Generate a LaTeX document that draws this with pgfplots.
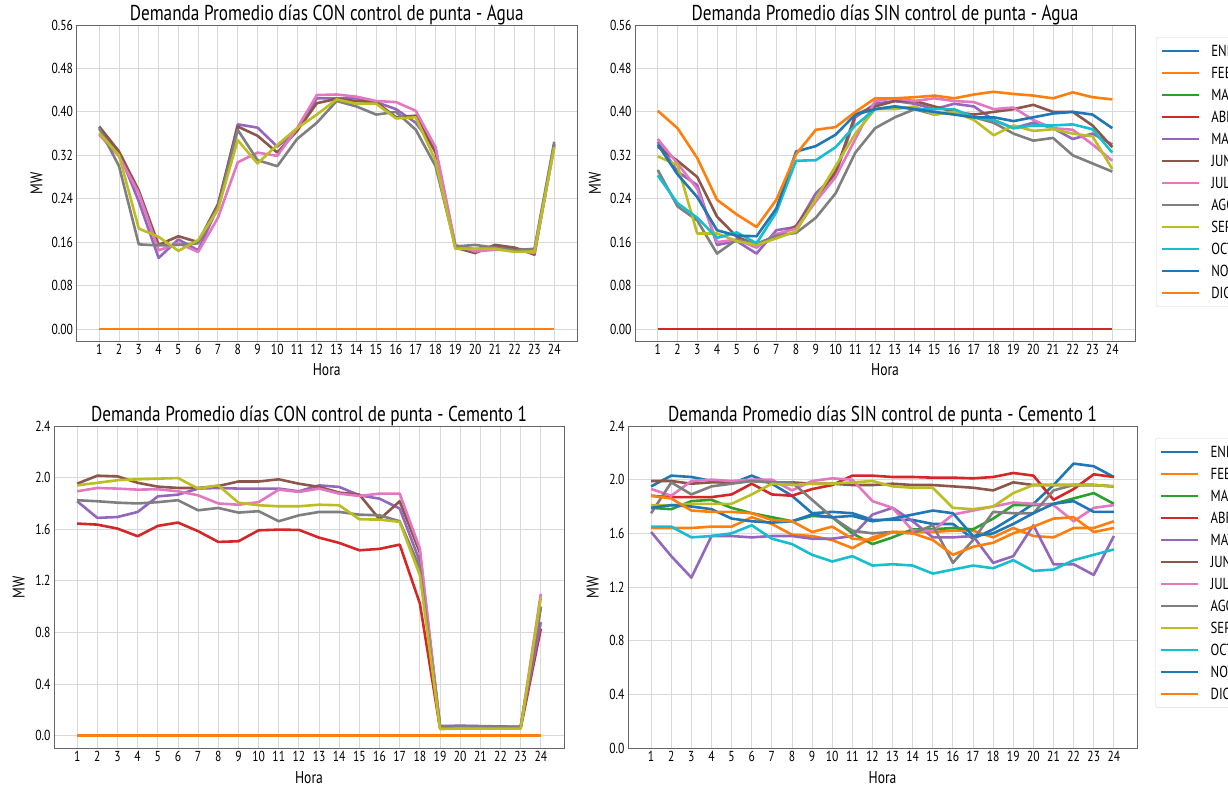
\documentclass[border=0pt]{standalone}
\usepackage{fontspec}
\setmainfont{PT Sans}[FakeStretch=0.8]
\usepackage{pgfplots}
\usepackage{pgfplotstable}
\pgfplotsset{compat=1.18}

\definecolor{c0}{HTML}{1F77B4}
\definecolor{c1}{HTML}{FF7F0E}
\definecolor{c2}{HTML}{2CA02C}
\definecolor{c3}{HTML}{D62728}
\definecolor{c4}{HTML}{9467BD}
\definecolor{c5}{HTML}{8C564B}
\definecolor{c6}{HTML}{E377C2}
\definecolor{c7}{HTML}{7F7F7F}
\definecolor{c8}{HTML}{BCBD22}
\definecolor{c9}{HTML}{17BECF}
\definecolor{gridc}{HTML}{D9D9D9}
\definecolor{framec}{HTML}{666666}

\newcommand\titlefont{\fontsize{21.5}{24}\selectfont}
\newcommand\tickfont{\fontsize{14.5}{16}\selectfont}
\newcommand\labfont{\fontsize{17}{19}\selectfont}
\newcommand\legfont{\fontsize{16}{18}\selectfont}

% Agua, dias CON control de punta (meses sin datos = Z)
\pgfplotstableread{
h MAY JUN JUL AGO SEP Z
1 0.370 0.373 0.358 0.370 0.361 0
2 0.325 0.327 0.318 0.300 0.320 0
3 0.235 0.255 0.250 0.156 0.185 0
4 0.131 0.155 0.145 0.154 0.170 0
5 0.165 0.171 0.158 0.155 0.144 0
6 0.145 0.160 0.142 0.158 0.164 0
7 0.225 0.230 0.205 0.225 0.220 0
8 0.377 0.373 0.307 0.367 0.348 0
9 0.371 0.356 0.325 0.311 0.305 0
10 0.336 0.325 0.319 0.300 0.339 0
11 0.365 0.365 0.370 0.350 0.370 0
12 0.425 0.416 0.431 0.380 0.395 0
13 0.425 0.424 0.432 0.420 0.423 0
14 0.425 0.420 0.428 0.410 0.415 0
15 0.418 0.418 0.420 0.395 0.415 0
16 0.405 0.390 0.418 0.400 0.388 0
17 0.380 0.393 0.402 0.367 0.390 0
18 0.330 0.325 0.335 0.300 0.310 0
19 0.153 0.150 0.155 0.152 0.148 0
20 0.147 0.140 0.143 0.155 0.148 0
21 0.152 0.155 0.146 0.150 0.148 0
22 0.148 0.150 0.145 0.145 0.142 0
23 0.145 0.137 0.140 0.148 0.143 0
24 0.340 0.340 0.335 0.345 0.335 0
}\tabTL

% Agua, dias SIN control de punta
\pgfplotstableread{
h MAY JUN JUL AGO SEP OCT NOV DIC Z
1 0.345 0.336 0.350 0.293 0.318 0.283 0.340 0.402 0
2 0.290 0.310 0.305 0.226 0.302 0.232 0.285 0.370 0
3 0.265 0.280 0.258 0.200 0.176 0.205 0.243 0.315 0
4 0.155 0.207 0.160 0.139 0.176 0.168 0.182 0.238 0
5 0.162 0.170 0.165 0.165 0.162 0.178 0.172 0.211 0
6 0.139 0.155 0.150 0.157 0.155 0.158 0.171 0.188 0
7 0.182 0.170 0.175 0.172 0.167 0.215 0.222 0.238 0
8 0.188 0.190 0.185 0.177 0.180 0.310 0.327 0.322 0
9 0.250 0.240 0.235 0.205 0.240 0.311 0.337 0.367 0
10 0.285 0.290 0.280 0.250 0.300 0.335 0.358 0.372 0
11 0.390 0.395 0.350 0.325 0.360 0.375 0.395 0.400 0
12 0.415 0.410 0.420 0.370 0.405 0.405 0.405 0.425 0
13 0.420 0.420 0.425 0.390 0.405 0.410 0.410 0.425 0
14 0.415 0.420 0.420 0.405 0.410 0.405 0.405 0.427 0
15 0.405 0.410 0.425 0.395 0.395 0.405 0.400 0.430 0
16 0.415 0.400 0.420 0.400 0.400 0.405 0.395 0.425 0
17 0.410 0.395 0.418 0.390 0.385 0.390 0.390 0.432 0
18 0.385 0.400 0.405 0.380 0.357 0.385 0.390 0.437 0
19 0.370 0.405 0.408 0.360 0.375 0.370 0.383 0.433 0
20 0.380 0.413 0.385 0.347 0.365 0.375 0.390 0.430 0
21 0.370 0.400 0.370 0.352 0.368 0.375 0.397 0.425 0
22 0.350 0.400 0.367 0.320 0.360 0.377 0.400 0.436 0
23 0.360 0.375 0.340 0.305 0.355 0.368 0.395 0.427 0
24 0.340 0.335 0.310 0.290 0.295 0.325 0.370 0.423 0
}\tabTR

% Cemento 1, dias CON control de punta
\pgfplotstableread{
h ABR MAY JUN JUL AGO SEP Z
1 1.644 1.817 1.953 1.894 1.825 1.940 0
2 1.636 1.688 2.015 1.920 1.817 1.960 0
3 1.605 1.695 2.010 1.915 1.806 1.980 0
4 1.546 1.734 1.960 1.907 1.800 1.987 0
5 1.626 1.855 1.930 1.910 1.810 1.992 0
6 1.652 1.868 1.920 1.894 1.825 1.997 0
7 1.585 1.915 1.920 1.863 1.747 1.915 0
8 1.502 1.920 1.935 1.800 1.765 1.940 0
9 1.507 1.915 1.970 1.790 1.729 1.806 0
10 1.592 1.915 1.970 1.810 1.740 1.786 0
11 1.597 1.915 1.987 1.907 1.662 1.778 0
12 1.595 1.894 1.953 1.889 1.708 1.778 0
13 1.535 1.940 1.928 1.915 1.734 1.790 0
14 1.494 1.928 1.884 1.876 1.734 1.786 0
15 1.437 1.863 1.868 1.858 1.713 1.677 0
16 1.448 1.837 1.677 1.876 1.708 1.675 0
17 1.481 1.760 1.817 1.876 1.662 1.657 0
18 1.025 1.350 1.420 1.450 1.300 1.244 0
19 0.060 0.075 0.070 0.065 0.072 0.052 0
20 0.062 0.078 0.072 0.068 0.075 0.055 0
21 0.062 0.075 0.070 0.067 0.073 0.055 0
22 0.060 0.072 0.068 0.065 0.070 0.055 0
23 0.058 0.070 0.066 0.063 0.068 0.055 0
24 0.830 0.880 1.000 1.100 1.000 1.070 0
}\tabBL

% Cemento 1, dias SIN control de punta
\pgfplotstableread{
h ENE FEB MAR ABR MAY JUN JUL AGO SEP OCT NOV DIC
1 1.95 1.64 1.79 1.88 1.61 1.99 1.93 1.75 1.81 1.65 1.79 1.88
2 2.03 1.64 1.78 1.87 1.43 1.99 1.88 1.98 1.81 1.65 1.81 1.86
3 2.02 1.64 1.84 1.87 1.27 1.97 1.99 1.89 1.82 1.57 1.80 1.77
4 1.99 1.65 1.85 1.87 1.58 1.98 2.00 1.95 1.82 1.58 1.78 1.76
5 1.97 1.65 1.79 1.89 1.58 1.98 1.99 1.97 1.82 1.60 1.71 1.76
6 2.03 1.72 1.75 1.97 1.57 1.99 2.00 1.99 1.89 1.66 1.69 1.75
7 1.97 1.67 1.72 1.89 1.58 1.98 2.00 1.98 1.97 1.56 1.68 1.70
8 1.88 1.59 1.69 1.88 1.58 1.98 1.92 1.98 1.96 1.52 1.69 1.69
9 1.75 1.58 1.73 1.93 1.56 1.97 1.99 1.85 1.97 1.44 1.74 1.61
10 1.76 1.55 1.72 1.96 1.56 1.97 2.01 1.72 1.97 1.39 1.72 1.65
11 1.75 1.49 1.60 2.03 1.58 1.96 2.00 1.62 1.98 1.43 1.73 1.56
12 1.70 1.57 1.52 2.03 1.74 1.96 1.84 1.60 1.99 1.36 1.69 1.55
13 1.70 1.61 1.57 2.02 1.79 1.97 1.79 1.61 1.95 1.37 1.71 1.61
14 1.70 1.61 1.63 2.02 1.69 1.96 1.62 1.60 1.94 1.36 1.74 1.60
15 1.67 1.61 1.63 2.015 1.57 1.96 1.62 1.66 1.94 1.30 1.77 1.55
16 1.67 1.62 1.64 2.015 1.57 1.95 1.74 1.38 1.79 1.33 1.75 1.44
17 1.56 1.62 1.63 2.01 1.58 1.94 1.77 1.55 1.78 1.36 1.58 1.50
18 1.63 1.57 1.71 2.02 1.38 1.92 1.80 1.76 1.80 1.34 1.60 1.53
19 1.72 1.64 1.81 2.05 1.43 1.98 1.83 1.75 1.90 1.40 1.67 1.60
20 1.82 1.58 1.81 2.03 1.66 1.96 1.82 1.75 1.96 1.32 1.75 1.65
21 1.96 1.57 1.82 1.85 1.37 1.96 1.81 1.92 1.96 1.33 1.82 1.71
22 2.12 1.64 1.86 1.93 1.37 1.96 1.69 1.96 1.96 1.40 1.84 1.72
23 2.10 1.64 1.90 2.04 1.29 1.96 1.79 1.96 1.96 1.44 1.76 1.61
24 2.02 1.69 1.82 2.02 1.58 1.95 1.81 1.95 1.95 1.48 1.76 1.64
}\tabBR

\pgfplotsset{
  every axis title shift=0pt,
  panel/.style={
    scale only axis,
    xmin=-0.15, xmax=25.15,
    xtick={1,...,24},
    grid=major,
    grid style={line width=0.9pt, draw=gridc},
    axis line style={draw=framec, line width=0.9pt},
    major tick length=0pt,
    tick label style={font=\tickfont},
    /pgf/number format/assume math mode=true,
    title style={at={(0.5,1)}, anchor=base, yshift=5pt, font=\titlefont},
    xlabel={Hora}, ylabel={MW},
    label style={font=\labfont},
    no markers,
    every axis plot/.append style={line width=2.6pt, line join=round},
    cycle list={{c0},{c1},{c2},{c3},{c4},{c5},{c6},{c7},{c8},{c9},{c0},{c1}},
    legend cell align=left,
    legend image code/.code={\draw[##1, line width=2.6pt] (0pt,0pt) -- (37pt,0pt);},
    legend style={font=\legfont, draw=gridc, rounded corners=2pt,
      row sep=8.5pt, inner xsep=4pt, inner ysep=7pt,
      /tikz/every odd column/.append style={column sep=10pt},
      nodes={text height=10.5pt, text depth=0pt, inner sep=1.5pt}},
  },
  agua/.style={panel, ymin=-0.022, ymax=0.56, ytick={0,0.08,...,0.57},
    yticklabel style={/pgf/number format/.cd, fixed, fixed zerofill, precision=2},
    x label style={at={(axis description cs:0.5,-0.092)}, anchor=center},
    y label style={at={(axis description cs:-0.08,0.5)}, anchor=center}},
  cemento/.style={panel, ymax=2.4, ytick={0,0.4,...,2.5},
    yticklabel style={/pgf/number format/.cd, fixed, fixed zerofill, precision=1},
    x label style={at={(axis description cs:0.5,-0.093)}, anchor=center},
    y label style={at={(axis description cs:-0.069,0.5)}, anchor=center}},
}

\begin{document}
\begin{tikzpicture}[x=1pt,y=1pt]

\begin{axis}[agua, at={(76.5pt,-25pt)}, anchor=north west, width=500.5pt, height=316pt,
  title={Demanda Promedio días CON control de punta - Agua}]
\pgfplotsinvokeforeach{Z,Z,Z,Z,MAY,JUN,JUL,AGO,SEP,Z,Z,Z}{\addplot table[x=h,y=#1]{\tabTL};}
\end{axis}

\begin{axis}[agua, at={(635pt,-25pt)}, anchor=north west, width=500pt, height=316pt,
  title={Demanda Promedio días SIN control de punta - Agua},
  legend style={at={(1.042,0.962)}, anchor=north west}]
\pgfplotsinvokeforeach{Z,Z,Z,Z,MAY,JUN,JUL,AGO,SEP,OCT,NOV,DIC}{\addplot table[x=h,y=#1]{\tabTR};}
\legend{ENE,FEB,MAR,ABR,MAY,JUN,JUL,AGO,SEP,OCT,NOV,DIC}
\end{axis}

\begin{axis}[cemento, ymin=-0.095, at={(54pt,-426pt)}, anchor=north west, width=510pt, height=322pt,
  title={Demanda Promedio días CON control de punta - Cemento 1}]
\pgfplotsinvokeforeach{Z,Z,Z,ABR,MAY,JUN,JUL,AGO,SEP,Z,Z,Z}{\addplot table[x=h,y=#1]{\tabBL};}
\end{axis}

\begin{axis}[cemento, ymin=0, at={(628pt,-426pt)}, anchor=north west, width=509pt, height=322pt,
  title={Demanda Promedio días SIN control de punta - Cemento 1},
  legend style={at={(1.036,0.963)}, anchor=north west}]
\pgfplotsinvokeforeach{ENE,FEB,MAR,ABR,MAY,JUN,JUL,AGO,SEP,OCT,NOV,DIC}{\addplot table[x=h,y=#1]{\tabBR};}
\legend{ENE,FEB,MAR,ABR,MAY,JUN,JUL,AGO,SEP,OCT,NOV,DIC}
\end{axis}

\pgfresetboundingbox
\path[use as bounding box] (0pt,0pt) rectangle (1228pt,-788pt);
\end{tikzpicture}
\end{document}
